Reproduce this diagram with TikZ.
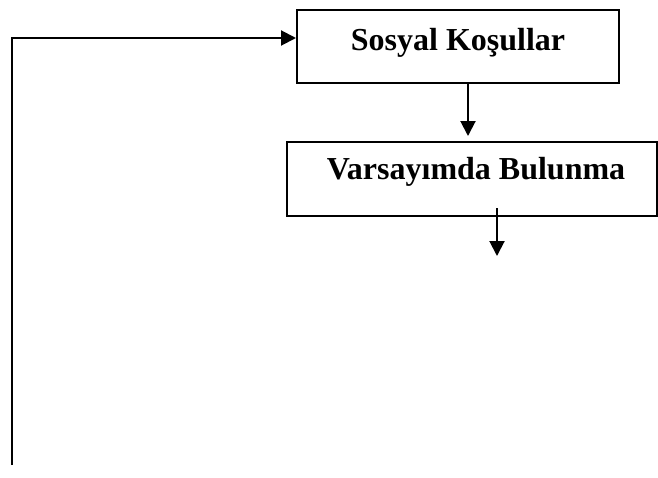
\documentclass[tikz,border=0pt]{standalone}
\usepackage{fontspec}
\setmainfont{Liberation Serif}
\usetikzlibrary{positioning,arrows.meta}

\tikzset{
  box/.style={draw, line width=2pt, inner sep=0pt, font=\fontsize{32}{38}\selectfont\bfseries},
  lbl/.style={inner sep=0pt, font=\fontsize{32}{38}\selectfont\bfseries},
  arr/.style={line width=2pt, -{Triangle[length=15pt,width=15pt]}}
}

\begin{document}
\begin{tikzpicture}[x=1pt, y=1pt]

    \useasboundingbox (0,0) rectangle (658,-477);

    % Define nodes
    \node[box, minimum width=322pt, minimum height=73pt,
          text height=22pt, text depth=15pt]           (sosyal) at (458,-46.5) {Sosyal Koşullar};
    \node[box, below=57pt of sosyal, xshift=14pt,
          minimum width=370pt, minimum height=74pt]    (varsayim-box) {};
    \node[lbl, anchor=base]
          (varsayim) at ([xshift=4pt]varsayim-box.center) {Varsayımda Bulunma};
    \coordinate[below=39pt of varsayim-box.south, xshift=25pt] (sonraki);
    \coordinate (geri) at (12,-465);

    % Connect the nodes
    \draw[arr, shorten >=5pt] ([xshift=10pt]sosyal.south) -- ([xshift=10pt]sosyal.south |- varsayim-box.north);
    \draw[arr] ([xshift=25pt, yshift=9pt]varsayim-box.south) -- (sonraki);
    \draw[arr] (geri) |- ([yshift=8.5pt]sosyal.west);

\end{tikzpicture}
\end{document}
